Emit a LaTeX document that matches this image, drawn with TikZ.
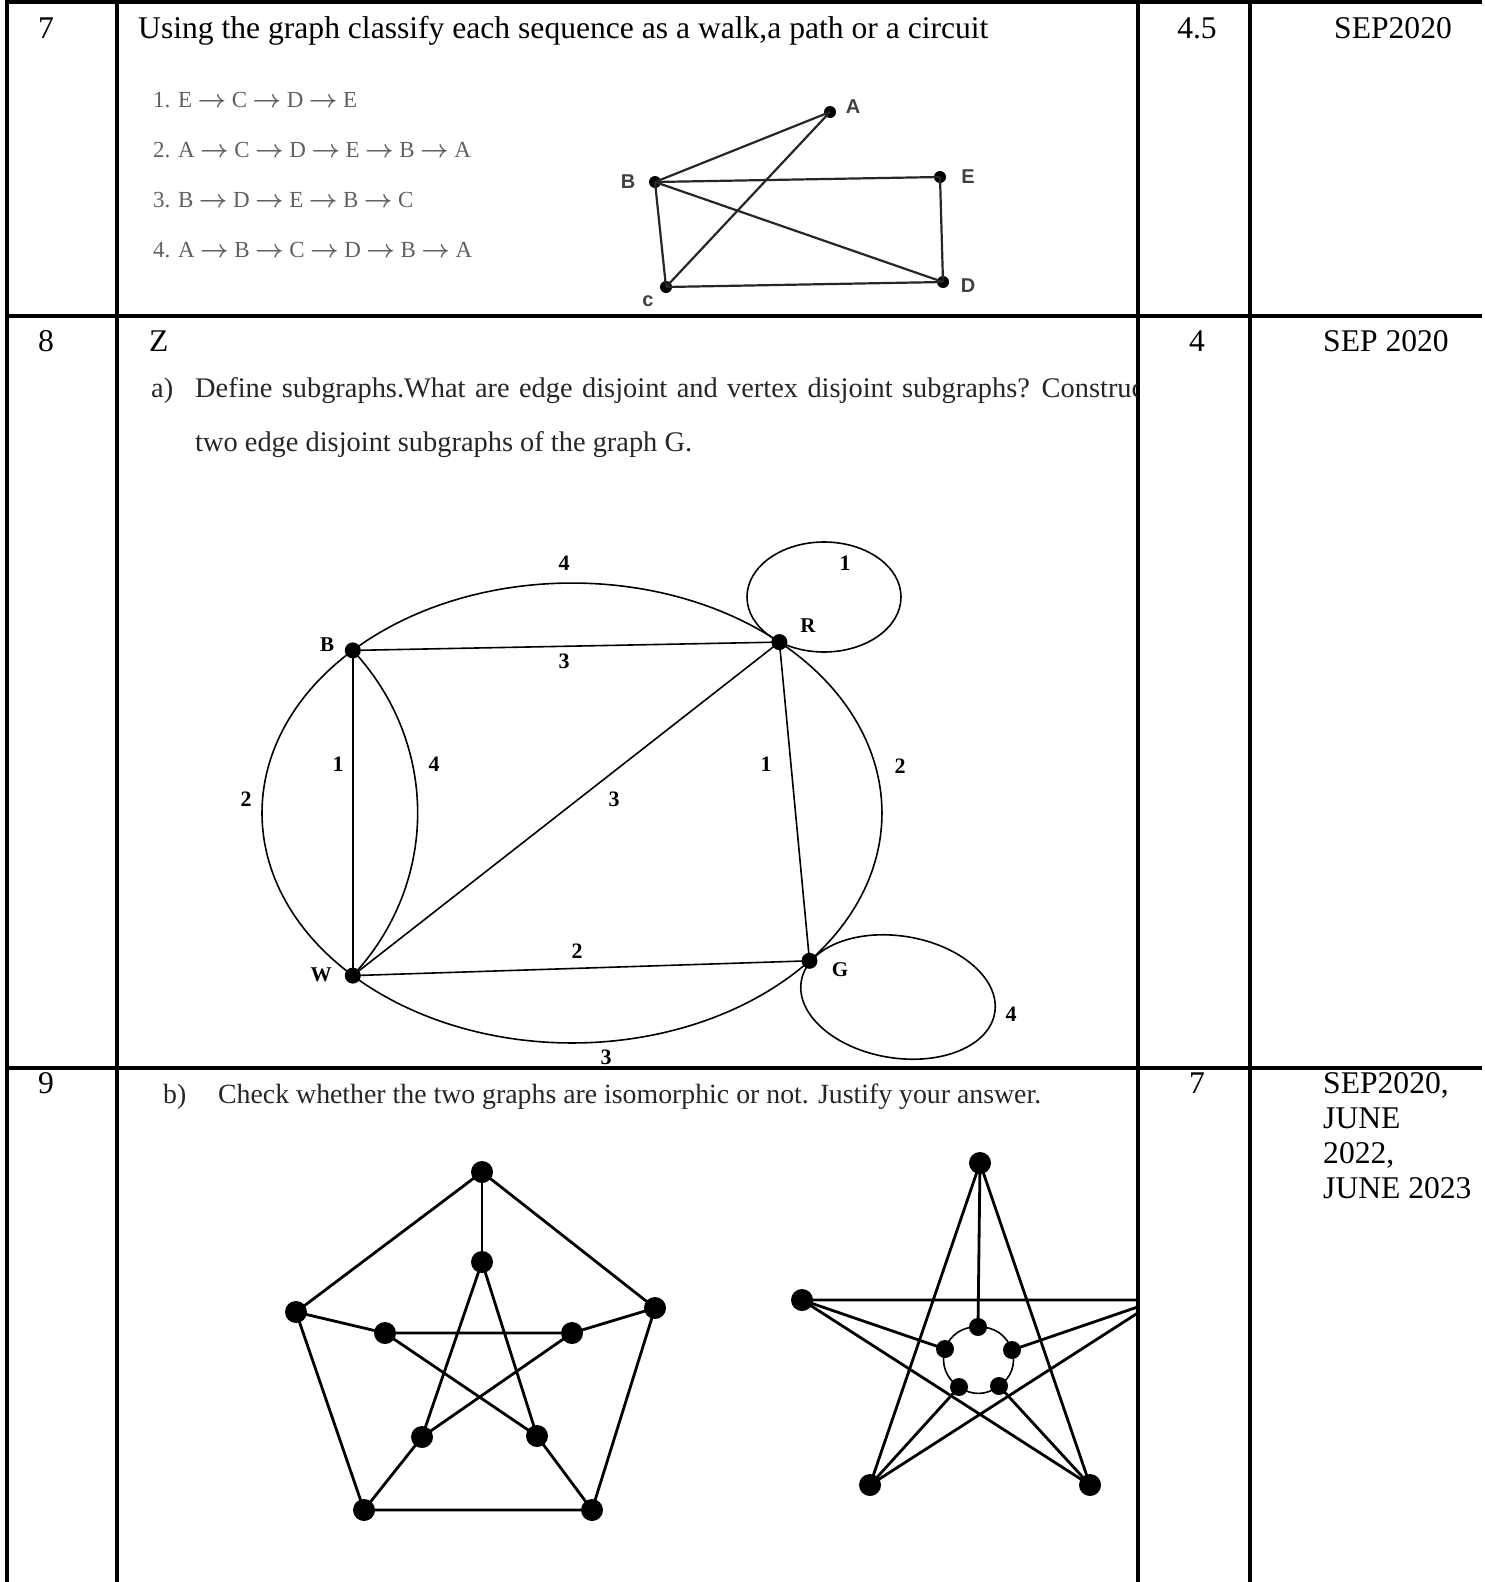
\documentclass[tikz,border=0pt]{standalone}
\usepackage{fontspec}
\usepackage{amsmath}
\setmainfont{Liberation Serif}
\newfontfamily\sansf{Liberation Sans}
\newcommand\sar{\hspace{0.24em}$\boldsymbol{\rightarrow}$\hspace{0.24em}}
\begin{document}
\begin{tikzpicture}[x=1pt,y=-1pt,
  tbl/.style={line width=4pt},
  tt/.style={inner sep=0pt, anchor=base west, font=\fontsize{31.6}{35.3}\selectfont},
  ttc/.style={inner sep=0pt, anchor=base, font=\fontsize{31.6}{35.3}\selectfont},
  qq/.style={inner sep=0pt, anchor=base west, font=\fontsize{28.4}{28.4}\selectfont, text=black!85},
  qr/.style={inner sep=0pt, anchor=base west, font=\fontsize{27.8}{27.8}\selectfont, text=black!85},
  seq/.style={inner sep=0pt, anchor=base west, font=\fontsize{23}{23}\selectfont, text=black!62},
  dotA/.style={circle, fill=black, inner sep=0pt, minimum size=12pt},
  dotB/.style={circle, fill=black, inner sep=0pt, minimum size=16pt},
  dotD/.style={circle, fill=black, inner sep=0pt, minimum size=18pt},
  dotC/.style={circle, fill=black, inner sep=0pt, minimum size=22pt},
  edgeA/.style={line width=2.2pt, black!85},
  edgeB/.style={line width=1.6pt},
  edgeC/.style={line width=2.8pt},
  labA/.style={inner sep=0pt, font=\sansf\bfseries\fontsize{20}{20}\selectfont, text=black!75},
  labB/.style={inner sep=0pt, font=\bfseries\fontsize{21}{21}\selectfont},
  numB/.style={inner sep=0pt, font=\bfseries\fontsize{22}{22}\selectfont}
]
\useasboundingbox[fill=white] (0,0) rectangle (1484,1582);

% ---------------- table rules ----------------
\draw[tbl] (5,2) -- (1482,2);
\draw[tbl] (5,316) -- (1482,316);
\draw[tbl] (5,1068) -- (1482,1068);
\draw[tbl] (7,0) -- (7,1582);
\draw[tbl] (117,0) -- (117,1582);
\draw[tbl] (1138,0) -- (1138,1582);
\draw[tbl] (1250,0) -- (1250,1582);

% ---------------- row 7 ----------------
\node[ttc] (n7) at (46,38) {7};
\node[tt] (q7) at (138,38) {Using the graph classify each sequence as a walk,a path or a circuit};
\node[ttc] (m7) at (1197,38) {4.5};
\node[tt] (d7) at (1334,38) {SEP2020};

\node[seq] (s1) at (153,107) {1. E\sar C\sar D\sar E};
\node[seq] (s2) at (153,157) {2. A\sar C\sar D\sar E\sar B\sar A};
\node[seq] (s3) at (153,207) {3. B\sar D\sar E\sar B\sar C};
\node[seq] (s4) at (153,257) {4. A\sar B\sar C\sar D\sar B\sar A};

\node[dotA] (A) at (830,112) {};
\node[dotA] (Bs) at (655,182) {};
\node[dotA] (E) at (940,177) {};
\node[dotA] (C) at (666,287) {};
\node[dotA] (D) at (943,282) {};
\draw[edgeA] (A.center) -- (Bs.center);
\draw[edgeA] (A.center) -- (C.center);
\draw[edgeA] (Bs.center) -- (E.center);
\draw[edgeA] (Bs.center) -- (C.center);
\draw[edgeA] (Bs.center) -- (D.center);
\draw[edgeA] (E.center) -- (D.center);
\draw[edgeA] (C.center) -- (D.center);
\node[labA] (lA) at (853,107) {A};
\node[labA] (lB) at (628,182) {B};
\node[labA] (lE) at (968,177) {E};
\node[labA] (lC) at (648,301) {c};
\node[labA] (lD) at (968,286) {D};

% ---------------- row 8 ----------------
\node[ttc] (n8) at (46,351) {8};
\node[tt] (z8) at (149,351) {Z};
\node[ttc] (m8) at (1197,351) {4};
\node[tt] (d8) at (1323,351) {SEP 2020};

\begin{scope}
\clip (119,318) rectangle (1136,1066);
\node[qq] (qa) at (151,397) {a)};
\node[qq] (qa1) at (195,397) {\spaceskip=9.4pt\relax Define subgraphs.What are edge disjoint and vertex disjoint subgraphs? Construct};
\node[qq] (qa2) at (195,451) {two edge disjoint subgraphs of the graph G.};
\end{scope}

\node[dotB] (B) at (352.8,650.4) {};
\node[dotB] (R) at (779.4,642.1) {};
\node[dotB] (G) at (809.5,960.8) {};
\node[dotB] (W) at (352.8,975.6) {};
\draw[edgeB] (B.center) arc[start angle=225, end angle=312, x radius=310, y radius=230];
\draw[edgeB] (R.center) arc[start angle=-48, end angle=40, x radius=310, y radius=230];
\draw[edgeB] (G.center) arc[start angle=40, end angle=135, x radius=310, y radius=230];
\draw[edgeB] (W.center) arc[start angle=135, end angle=225, x radius=310, y radius=230];
\draw[edgeB] (B.center) -- (R.center);
\draw[edgeB] (B.center) -- (W.center);
\draw[edgeB] (B.center) to[bend left=43] (W.center);
\draw[edgeB] (W.center) -- (R.center);
\draw[edgeB] (R.center) -- (G.center);
\draw[edgeB] (W.center) -- (G.center);
\draw[edgeB] (824,597) ellipse[x radius=77, y radius=55];
\draw[edgeB, rotate around={-9.2:(898,997)}] (898,997) ellipse[x radius=98, y radius=61];

\node[labB] (lBB) at (327,645) {B};
\node[labB] (lR) at (808,626) {R};
\node[labB] (lW) at (321,975) {W};
\node[labB] (lG) at (840,970) {G};
\node[numB] (w1) at (564,563) {4};
\node[numB] (w2) at (564,661) {3};
\node[numB] (w3) at (338,764) {1};
\node[numB] (w4) at (434,764) {4};
\node[numB] (w5) at (246,799) {2};
\node[numB] (w6) at (614,799) {3};
\node[numB] (w7) at (766,764) {1};
\node[numB] (w8) at (900,766) {2};
\node[numB] (w9) at (577,951) {2};
\node[numB] (w10) at (606,1057) {3};
\node[numB] (w11) at (845,563) {1};
\node[numB] (w12) at (1011,1014) {4};

% ---------------- row 9 ----------------
\node[ttc] (n9) at (46,1093) {9};
\node[ttc] (m9) at (1197,1093) {7};
\node[tt] (d9a) at (1323,1093) {SEP2020,};
\node[tt] (d9b) at (1323,1128.3) {JUNE};
\node[tt] (d9c) at (1323,1163.6) {2022,};
\node[tt] (d9d) at (1323,1198.9) {JUNE 2023};

\begin{scope}
\clip (119,1070) rectangle (1136,1582);
\node[qr] (qb) at (163,1103) {b)};
\node[qr] (qb1) at (218,1103) {Check whether the two graphs are isomorphic or not. Justify your answer.};

% Petersen-like graph
\node[dotC] (p1) at (482,1172) {};
\node[dotC] (p2) at (655,1308) {};
\node[dotC] (p3) at (592,1510) {};
\node[dotC] (p4) at (364,1510) {};
\node[dotC] (p5) at (296,1312) {};
\node[dotC] (q1) at (482,1262) {};
\node[dotC] (q2) at (572,1333) {};
\node[dotC] (q3) at (537,1436) {};
\node[dotC] (q4) at (422,1437) {};
\node[dotC] (q5) at (385,1333) {};
\draw[edgeC] (p1.center) -- (p2.center) -- (p3.center) -- (p4.center) -- (p5.center) -- (p1.center);
\draw[edgeC] (p1.center) -- (q1.center);
\draw[edgeC] (p2.center) -- (q2.center);
\draw[edgeC] (p3.center) -- (q3.center);
\draw[edgeC] (p4.center) -- (q4.center);
\draw[edgeC] (p5.center) -- (q5.center);
\draw[edgeC] (q1.center) -- (q3.center) -- (q5.center) -- (q2.center) -- (q4.center) -- (q1.center);

% star graph
\node[dotC] (t1) at (980,1163) {};
\node[dotC] (t2) at (1158,1300) {};
\node[dotC] (t3) at (1090,1485) {};
\node[dotC] (t4) at (870,1485) {};
\node[dotC] (t5) at (802,1300) {};
\node[dotD] (u1) at (978,1327) {};
\node[dotD] (u2) at (1012,1350) {};
\node[dotD] (u3) at (999,1386) {};
\node[dotD] (u4) at (959,1387) {};
\node[dotD] (u5) at (945,1349) {};
\draw[edgeC] (t1.center) -- (t3.center) -- (t5.center) -- (t2.center) -- (t4.center) -- (t1.center);
\draw[edgeC] (t1.center) -- (u1.center);
\draw[edgeC] (t2.center) -- (u2.center);
\draw[edgeC] (t3.center) -- (u3.center);
\draw[edgeC] (t4.center) -- (u4.center);
\draw[edgeC] (t5.center) -- (u5.center);
\draw[edgeB] (u1.center) to[bend left=36] (u2.center) to[bend left=36] (u3.center)
  to[bend left=36] (u4.center) to[bend left=36] (u5.center) to[bend left=36] (u1.center);
\end{scope}
\end{tikzpicture}
\end{document}
